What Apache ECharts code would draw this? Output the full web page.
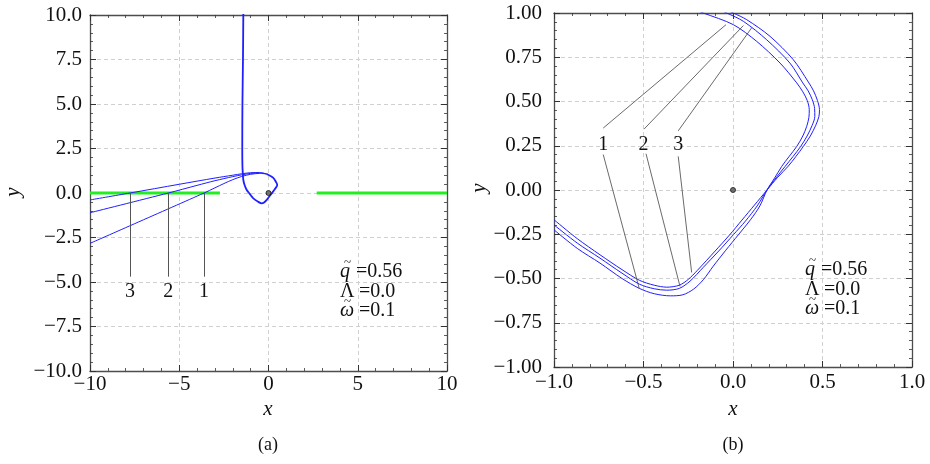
<!DOCTYPE html>
<html>
<head>
<meta charset="utf-8">
<script src="https://cdn.jsdelivr.net/npm/echarts@6/dist/echarts.min.js"></script>
<style>
html,body{margin:0;padding:0;background:#fff;}
#c{width:930px;height:464px;}
</style>
</head>
<body>
<div id="c"></div>
<script>
// ---------- Panel (a) data ----------
const greenLeft = [[-10, 0], [-2.72, 0]];
const greenRight = [[2.70, 0], [10, 0]];
const leftBranch1 = [[-10,-2.83],[-3.61,0],[-3,0.29],[-2.5,0.53],[-2,0.75],[-1.5,0.93],[-1,1.05],[-0.5,1.10],[-0.1,1.07]];
const leftBranch2 = [[-10,-1.11],[-5.61,0],[-4,0.43],[-3,0.69],[-2,0.92],[-1.5,1.02],[-1,1.10],[-0.5,1.13],[-0.1,1.07]];
const leftBranch3 = [[-10,-0.39],[-7.76,0],[-5,0.49],[-3,0.84],[-2,1.0],[-1.5,1.08],[-1,1.14],[-0.5,1.15],[-0.1,1.07]];
const leftShared = [[-0.1,1.07],[0.27,0.85],[0.43,0.6],[0.49,0.45],[0.36,0.22],[0.18,-0.02],[-0.1,-0.39],[-0.25,-0.54],[-0.38,-0.58],[-0.6,-0.48],[-0.85,-0.3],[-1.05,-0.05],[-1.22,0.17],[-1.34,0.45],[-1.41,0.73],[-1.44,1.1],[-1.46,1.5],[-1.47,2.5],[-1.46,5],[-1.43,7.5],[-1.41,10.2]];
const leftCross = [-3.61, -5.61, -7.76];
const leftLabels = ['1', '2', '3'];
const leftLineBottom = -4.7;
const leftLabelY = -5.55;
const leftXTicks = [-10, -5, 0, 5, 10];
const leftYTicks = [10, 7.5, 5, 2.5, 0, -2.5, -5, -7.5, -10];

// ---------- Panel (b) data ----------
const rightCurve1 = [[-1.0,-0.225],[-0.87,-0.33],[-0.743,-0.413],[-0.62,-0.50],[-0.523,-0.556],[-0.44,-0.586],[-0.35,-0.598],[-0.28,-0.592],[-0.22,-0.56],[-0.166,-0.507],[-0.11,-0.43],[-0.04,-0.34],[0.03,-0.253],[0.10,-0.165],[0.15,-0.09],[0.19,0.0],[0.232,0.067],[0.272,0.133],[0.314,0.19],[0.356,0.246],[0.39,0.305],[0.412,0.36],[0.424,0.41],[0.426,0.454],[0.415,0.505],[0.39,0.555],[0.356,0.605],[0.263,0.717],[0.132,0.84],[0.002,0.934],[-0.166,1.0],[-0.22,1.02]];
const rightCurve2 = [[-1.0,-0.197],[-0.87,-0.30],[-0.743,-0.385],[-0.62,-0.47],[-0.523,-0.532],[-0.44,-0.558],[-0.37,-0.566],[-0.30,-0.556],[-0.24,-0.515],[-0.166,-0.437],[-0.08,-0.345],[0.002,-0.253],[0.07,-0.175],[0.135,-0.09],[0.19,0.0],[0.24,0.068],[0.291,0.133],[0.336,0.19],[0.378,0.246],[0.414,0.305],[0.442,0.365],[0.457,0.415],[0.456,0.46],[0.443,0.51],[0.42,0.56],[0.39,0.605],[0.318,0.717],[0.188,0.849],[0.058,0.953],[-0.035,1.0],[-0.08,1.02]];
const rightCurve3 = [[-1.0,-0.168],[-0.87,-0.275],[-0.743,-0.366],[-0.62,-0.45],[-0.523,-0.51],[-0.44,-0.538],[-0.37,-0.549],[-0.30,-0.538],[-0.25,-0.505],[-0.20,-0.455],[-0.10,-0.345],[-0.02,-0.255],[0.05,-0.17],[0.12,-0.085],[0.19,0.0],[0.25,0.072],[0.309,0.135],[0.352,0.19],[0.393,0.246],[0.432,0.305],[0.462,0.365],[0.48,0.415],[0.483,0.455],[0.472,0.505],[0.45,0.56],[0.421,0.61],[0.337,0.736],[0.207,0.868],[0.077,0.962],[0.002,1.0],[-0.04,1.02]];
const rightLabels = ['1', '2', '3'];
const rightLabelPos = [[-0.725,0.258],[-0.50,0.258],[-0.306,0.258]];
const rightUpperStarts = [[-0.725,0.35],[-0.497,0.344],[-0.306,0.334]];
const rightUpperTips = [[-0.039,0.934],[0.058,0.929],[0.104,0.916]];
const rightLowerStarts = [[-0.725,0.2],[-0.486,0.205],[-0.306,0.19]];
const rightLowerTips = [[-0.523,-0.559],[-0.296,-0.545],[-0.231,-0.466]];
const rightXTicks = [-1, -0.5, 0, 0.5, 1];
const rightYTicks = [1, 0.75, 0.5, 0.25, 0, -0.25, -0.5, -0.75, -1];

const origin = [[0, 0]];

const FONT = 'Liberation Serif';
const FRAME = '#4d4d4d';
const TICK = '#333';
const BLUE = '#1f1fff';

function minus(s) { return String(s).replace('-', '\u2212'); }

function xAxisDef(grid, min, max, interval, top) {
  return {
    type: 'value', gridIndex: grid, min: min, max: max, interval: interval,
    position: top ? 'top' : 'bottom',
    axisLine: { show: true, onZero: false, lineStyle: { color: FRAME, width: 1.3 } },
    axisTick: { show: true, inside: true, length: 6, lineStyle: { color: TICK, width: 1 } },
    minorTick: { show: true, splitNumber: 5, length: 3, lineStyle: { color: TICK, width: 0.8 } },
    splitLine: { show: !top, lineStyle: { color: '#d0d0d0', type: [4, 3], width: 1 } },
    axisLabel: { show: false }
  };
}
function yAxisDef(grid, min, max, interval, right) {
  return {
    type: 'value', gridIndex: grid, min: min, max: max, interval: interval,
    position: right ? 'right' : 'left',
    axisLine: { show: true, onZero: false, lineStyle: { color: FRAME, width: 1.3 } },
    axisTick: { show: true, inside: true, length: 6, lineStyle: { color: TICK, width: 1 } },
    minorTick: { show: true, splitNumber: 5, length: 3, lineStyle: { color: TICK, width: 0.8 } },
    splitLine: { show: !right, lineStyle: { color: '#d0d0d0', type: [4, 3], width: 1 } },
    axisLabel: { show: false }
  };
}

function lineSeries(data, xi, yi, color, width, smooth) {
  return { type: 'line', xAxisIndex: xi, yAxisIndex: yi, data: data, showSymbol: false, symbol: 'none',
    smooth: smooth, lineStyle: { color: color, width: width }, silent: true, animation: false, z: 3 };
}
function arrowLines(starts, tips) {
  return starts.map((s, i) => [{ coord: s }, { coord: tips[i] }]);
}

const series = [
  lineSeries(greenLeft, 0, 0, '#22ee22', 3, false),
  lineSeries(greenRight, 0, 0, '#22ee22', 3, false),
  lineSeries(leftBranch1, 0, 0, BLUE, 1, 0.3),
  lineSeries(leftBranch2, 0, 0, BLUE, 1, 0.3),
  lineSeries(leftBranch3, 0, 0, BLUE, 1, 0.3),
  lineSeries(leftShared, 0, 0, BLUE, 1.8, 0.3),
  { type: 'line', xAxisIndex: 0, yAxisIndex: 0, data: [], silent: true, animation: false,
    markLine: { silent: true, animation: false, symbol: ['none', 'arrow'], symbolSize: [0, 5],
      label: { show: false }, lineStyle: { color: '#555', width: 1, type: 'solid' },
      data: arrowLines(leftCross.map(x => [x, leftLineBottom]), leftCross.map(x => [x, 0])) } },
  { type: 'scatter', xAxisIndex: 0, yAxisIndex: 0, data: origin, symbolSize: 5, silent: true, animation: false,
    itemStyle: { color: '#555', borderColor: '#111', borderWidth: 1 }, z: 5 },
  lineSeries(rightCurve1, 2, 2, BLUE, 1, 0.3),
  lineSeries(rightCurve2, 2, 2, BLUE, 1, 0.3),
  lineSeries(rightCurve3, 2, 2, BLUE, 1, 0.3),
  { type: 'line', xAxisIndex: 2, yAxisIndex: 2, data: [], silent: true, animation: false,
    markLine: { silent: true, animation: false, symbol: ['none', 'arrow'], symbolSize: [0, 5],
      label: { show: false }, lineStyle: { color: '#444', width: 0.8, type: 'solid' },
      data: arrowLines(rightUpperStarts, rightUpperTips).concat(arrowLines(rightLowerStarts, rightLowerTips)) } },
  { type: 'scatter', xAxisIndex: 2, yAxisIndex: 2, data: origin, symbolSize: 5, silent: true, animation: false,
    itemStyle: { color: '#555', borderColor: '#111', borderWidth: 1 }, z: 5 }
];

function txt(x, y, t, size, italic, align, rot) {
  return { type: 'text', x: x, y: y, rotation: rot || 0, silent: true, z: 10,
    style: { text: t, fontFamily: FONT, fontSize: size, fontStyle: italic ? 'italic' : 'normal',
      fill: '#111', align: align || 'left', verticalAlign: 'middle' } };
}
function paramBlock(x, y) {
  const g = [];
  g.push(txt(x, y, 'q', 20, true));
  g.push(txt(x + 4, y - 9, '~', 13, false));
  g.push(txt(x + 16, y, '=0.56', 20, false));
  g.push(txt(x, y + 20, '\u039B', 20, false));
  g.push(txt(x + 19, y + 20, '=0.0', 20, false));
  g.push(txt(x, y + 39, '\u03C9', 20, true));
  g.push(txt(x + 4, y + 30, '~', 13, false));
  g.push(txt(x + 19, y + 39, '=0.1', 20, false));
  return g;
}

const option = {
  backgroundColor: '#fff',
  animation: false,
  grid: [
    { left: 90, top: 15, width: 357, height: 356 },
    { left: 554, top: 13, width: 358, height: 354 }
  ],
  xAxis: [
    xAxisDef(0, -10, 10, 5, false),
    xAxisDef(0, -10, 10, 5, true),
    xAxisDef(1, -1, 1, 0.5, false),
    xAxisDef(1, -1, 1, 0.5, true)
  ],
  yAxis: [
    yAxisDef(0, -10, 10, 2.5, false),
    yAxisDef(0, -10, 10, 2.5, true),
    yAxisDef(1, -1, 1, 0.25, false),
    yAxisDef(1, -1, 1, 0.25, true)
  ],
  series: series
};

const chart = echarts.init(document.getElementById('c'), null, { renderer: 'canvas' });
chart.setOption(option);

const g = [];
leftXTicks.forEach(v => {
  const p = chart.convertToPixel({ xAxisIndex: 0, yAxisIndex: 0 }, [v, -10]);
  g.push(txt(p[0], p[1] + 13, minus(v.toFixed(0)), 21, false, 'center'));
});
leftYTicks.forEach(v => {
  const p = chart.convertToPixel({ xAxisIndex: 0, yAxisIndex: 0 }, [-10, v]);
  g.push(txt(p[0] - 8, p[1], minus(v.toFixed(1)), 21, false, 'right'));
});
rightXTicks.forEach(v => {
  const p = chart.convertToPixel({ xAxisIndex: 2, yAxisIndex: 2 }, [v, -1]);
  g.push(txt(p[0], p[1] + 15, minus(v.toFixed(1)), 21, false, 'center'));
});
rightYTicks.forEach(v => {
  const p = chart.convertToPixel({ xAxisIndex: 2, yAxisIndex: 2 }, [-1, v]);
  g.push(txt(p[0] - 12, p[1], minus(v.toFixed(2)), 21, false, 'right'));
});
g.push(txt(268, 409, 'x', 21, true, 'center'));
g.push(txt(733, 409, 'x', 21, true, 'center'));
g.push(txt(13, 192, 'y', 21, true, 'center', Math.PI / 2));
g.push(txt(479, 188, 'y', 21, true, 'center', Math.PI / 2));
leftCross.forEach((x, i) => {
  const p = chart.convertToPixel({ xAxisIndex: 0, yAxisIndex: 0 }, [x, leftLabelY]);
  g.push(txt(p[0], p[1], leftLabels[i], 20, false, 'center'));
});
rightLabelPos.forEach((q, i) => {
  const p = chart.convertToPixel({ xAxisIndex: 2, yAxisIndex: 2 }, q);
  g.push(txt(p[0], p[1], rightLabels[i], 20, false, 'center'));
});
paramBlock(340, 272).forEach(e => g.push(e));
paramBlock(805, 270).forEach(e => g.push(e));
g.push(txt(268, 445, '(a)', 18, false, 'center'));
g.push(txt(733, 445, '(b)', 18, false, 'center'));
chart.setOption({ graphic: g });
</script>
</body>
</html>
